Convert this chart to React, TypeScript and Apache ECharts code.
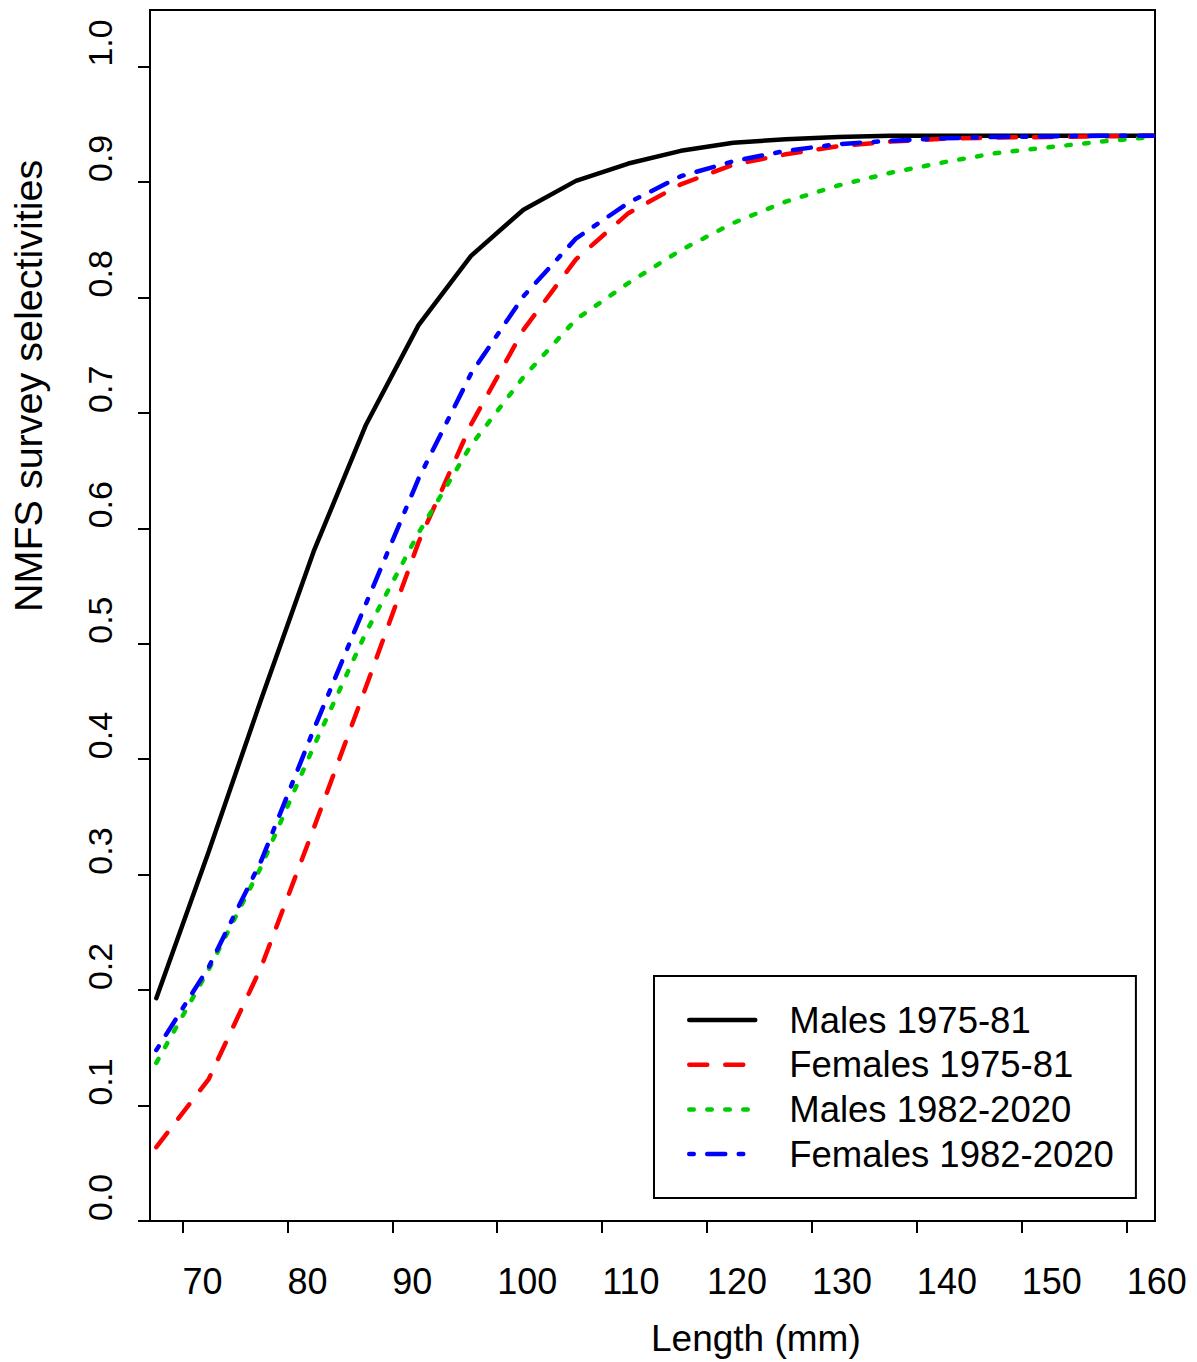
import React, { useEffect, useRef } from 'react';
import * as echarts from 'echarts';

const lengths = [67.5, 72.5, 77.5, 82.5, 87.5, 92.5, 97.5, 102.5, 107.5, 112.5, 117.5, 122.5, 127.5, 132.5, 137.5, 142.5, 147.5, 152.5, 157.5, 162.5];
const males1975 = [0.193, 0.320, 0.452, 0.580, 0.690, 0.776, 0.836, 0.876, 0.901, 0.916, 0.927, 0.934, 0.937, 0.939, 0.940, 0.940, 0.940, 0.940, 0.940, 0.940];
const females1975 = [0.064, 0.123, 0.220, 0.340, 0.463, 0.588, 0.690, 0.772, 0.833, 0.873, 0.898, 0.915, 0.924, 0.931, 0.935, 0.9375, 0.9385, 0.939, 0.9395, 0.940];
const males1982 = [0.137, 0.218, 0.307, 0.411, 0.510, 0.596, 0.672, 0.731, 0.781, 0.8125, 0.841, 0.8645, 0.883, 0.897, 0.908, 0.917, 0.925, 0.930, 0.935, 0.939];
const females1982 = [0.148, 0.220, 0.312, 0.4255, 0.535, 0.643, 0.734, 0.801, 0.851, 0.882, 0.905, 0.918, 0.927, 0.9328, 0.9357, 0.9378, 0.939, 0.9395, 0.940, 0.940];

const seriesNames = ['Males 1975-81', 'Females 1975-81', 'Males 1982-2020', 'Females 1982-2020'];
const xTicks = [70, 80, 90, 100, 110, 120, 130, 140, 150, 160];
const yTicks = [0, 0.1, 0.2, 0.3, 0.4, 0.5, 0.6, 0.7, 0.8, 0.9, 1.0];
const xTitle = 'Length (mm)';
const yTitle = 'NMFS survey selectivities';

export default function App() {
  const ref = useRef<HTMLDivElement>(null);

  useEffect(() => {
    if (!ref.current) return;
    const chart = echarts.init(ref.current, null, { renderer: 'svg' });
    const font = "'Liberation Sans', Arial, Helvetica, sans-serif";
    const pair = (ys: number[]) => lengths.map((x, i) => [x, ys[i]]);
    const lw = 4.5;

    const styles = [
      { color: '#000000', type: 'solid' as any },
      { color: '#FF0000', type: [18, 18] },
      { color: '#00CD00', type: [4.5, 13.5] },
      { color: '#0000FF', type: [4.5, 13.5, 18, 13.5] },
    ];
    const datasets = [males1975, females1975, males1982, females1982];

    chart.setOption({
      animation: false,
      backgroundColor: '#ffffff',
      grid: {
        left: 150,
        top: 10,
        width: 1005,
        height: 1211,
        show: true,
        borderColor: '#000',
        borderWidth: 2,
        backgroundColor: 'transparent',
      },
      xAxis: {
        type: 'value',
        min: 66.9,
        max: 162.7,
        axisLine: { show: true, onZero: false, lineStyle: { color: '#000', width: 2 } },
        axisTick: { show: true, inside: false, length: 12, customValues: xTicks, lineStyle: { color: '#000', width: 2 } },
        axisLabel: {
          customValues: xTicks,
          align: 'left',
          verticalAlign: 'middle',
          margin: 60,
          fontSize: 36,
          fontFamily: font,
          color: '#000',
        },
        splitLine: { show: false },
      },
      yAxis: {
        type: 'value',
        min: 0,
        max: 1.049,
        axisLine: { show: true, onZero: false, lineStyle: { color: '#000', width: 2 } },
        axisTick: { show: true, inside: false, length: 12, customValues: yTicks, lineStyle: { color: '#000', width: 2 } },
        axisLabel: {
          customValues: yTicks,
          rotate: 90,
          align: 'left',
          verticalAlign: 'middle',
          margin: 50,
          fontSize: 34,
          fontFamily: font,
          color: '#000',
          formatter: (v: number) => v.toFixed(1),
        },
        splitLine: { show: false },
      },
      legend: {
        orient: 'vertical',
        left: 654,
        top: 976,
        padding: [24, 22, 24, 33],
        itemWidth: 66,
        itemHeight: 40,
        itemGap: 4.7,
        borderColor: '#000',
        borderWidth: 2,
        borderRadius: 0,
        backgroundColor: '#ffffff',
        selectedMode: false,
        itemStyle: { color: 'transparent', borderColor: 'transparent', borderWidth: 0, opacity: 0 },
        lineStyle: { width: lw, cap: 'round' },
        textStyle: {
          fontSize: 36.5,
          fontFamily: font,
          color: '#000',
          lineHeight: 40,
          padding: [0, 0, 0, 29],
        },
        data: seriesNames,
      },
      graphic: [
        {
          type: 'text',
          x: 651,
          y: 1338,
          silent: true,
          style: {
            text: xTitle,
            fontSize: 37,
            fontFamily: font,
            fill: '#000',
            align: 'left',
            verticalAlign: 'middle',
          },
        },
        {
          type: 'text',
          x: 28,
          y: 612,
          rotation: Math.PI / 2,
          silent: true,
          style: {
            text: yTitle,
            fontSize: 39.5,
            fontFamily: font,
            fill: '#000',
            align: 'left',
            verticalAlign: 'middle',
          },
        },
      ],
      series: datasets.map((d, i) => ({
        name: seriesNames[i],
        type: 'line',
        data: pair(d),
        symbol: 'none',
        showSymbol: false,
        smooth: false,
        silent: true,
        color: styles[i].color,
        itemStyle: { color: styles[i].color },
        lineStyle: { color: styles[i].color, width: lw, type: styles[i].type, cap: 'round', join: 'round' },
        emphasis: { disabled: true },
        z: 2 + i,
      })),
    });

    return () => chart.dispose();
  }, []);

  return (
    <div
      ref={ref}
      style={{ position: 'fixed', left: 0, top: 0, width: 1197, height: 1362, background: '#ffffff' }}
    />
  );
}
